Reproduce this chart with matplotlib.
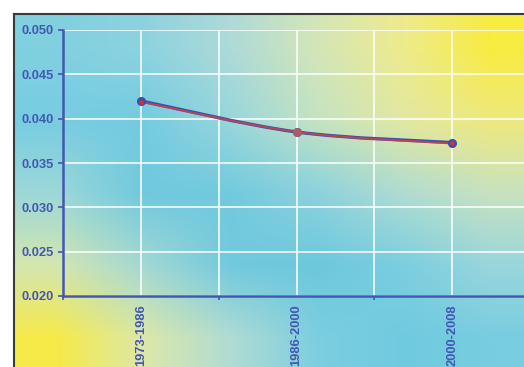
import numpy as np
import matplotlib
matplotlib.use("Agg")
from matplotlib import pyplot as plt
from matplotlib import font_manager as fm
from matplotlib.path import Path
from matplotlib.patches import PathPatch
from matplotlib.colors import to_rgb

periods = ["1973-1986", "1986-2000", "2000-2008"]
blue_vals = [0.0420, 0.0385, 0.0373]
red_vals = [0.0419, 0.0385, 0.0372]
yticks = [0.020, 0.025, 0.030, 0.035, 0.040, 0.045, 0.050]

# background colour grid (top row first)
bg_colors = [
    ["#80d0e0", "#8cd3e0", "#aedad8", "#d4e6b8", "#eeeb8c", "#f8ec40"],
    ["#78cde0", "#74cbe0", "#98d6dc", "#c4e3c2", "#e2e8a2", "#eee97e"],
    ["#9cd8d8", "#70c9de", "#72cade", "#8cd2de", "#b0dcd2", "#c8e2c0"],
    ["#d4e6b0", "#a4d8d4", "#72c9de", "#6cc8dc", "#7ccee0", "#9ad6dc"],
    ["#f6ea48", "#dce8a8", "#b0dcd4", "#7ccee0", "#70cadf", "#78cde0"],
]

axis_col = "#4356b4"
W, H = 524, 367

# Arial-like bold face
bold_file = None
for f in fm.findSystemFonts():
    if f.endswith("LiberationSans-Bold.ttf"):
        bold_file = f
        break
if bold_file:
    tick_font = fm.FontProperties(fname=bold_file, size=9.3)
else:
    tick_font = fm.FontProperties(family="DejaVu Sans", weight="bold", size=8)

fig = plt.figure(figsize=(W / 100, H / 100), dpi=100)

bg = fig.add_axes([14 / W, -0.02, 1.02 - 14 / W, 1.02 - 14 / H])
img = np.array([[to_rgb(c) for c in row] for row in bg_colors])
bg.imshow(img, aspect="auto", interpolation="bilinear", extent=[0, 1, 0, 1])
bg.set_xticks([])
bg.set_yticks([])
for s in ["right", "bottom"]:
    bg.spines[s].set_visible(False)
for s in ["left", "top"]:
    bg.spines[s].set_color("#3a3a3a")
    bg.spines[s].set_linewidth(1.5)

ax = fig.add_axes([63 / W, (H - 296) / H, (530 - 63) / W, (296 - 30) / H])
ax.set_facecolor("none")
ax.set_xlim(-0.5, 2.5)
ax.set_ylim(0.020, 0.050)

x = np.arange(len(periods))


def smooth_path(xs, ys):
    # cubic bezier through the points (catmull-rom tangents)
    xs = np.asarray(xs, float)
    ys = np.asarray(ys, float)
    verts = [(xs[0], ys[0])]
    codes = [Path.MOVETO]
    n = len(xs)
    for i in range(n - 1):
        p0 = (xs[max(i - 1, 0)], ys[max(i - 1, 0)])
        p1 = (xs[i], ys[i])
        p2 = (xs[i + 1], ys[i + 1])
        p3 = (xs[min(i + 2, n - 1)], ys[min(i + 2, n - 1)])
        c1 = (p1[0] + (p2[0] - p0[0]) / 6, p1[1] + (p2[1] - p0[1]) / 6)
        c2 = (p2[0] - (p3[0] - p1[0]) / 6, p2[1] - (p3[1] - p1[1]) / 6)
        verts += [c1, c2, p2]
        codes += [Path.CURVE4] * 3
    return Path(verts, codes)


ax.add_patch(PathPatch(smooth_path(x, blue_vals), fill=False,
                       edgecolor="#3a4db0", lw=2.4, zorder=3))
ax.add_patch(PathPatch(smooth_path(x, red_vals), fill=False,
                       edgecolor="#d8443c", lw=1.5, alpha=0.75, zorder=4))
ax.plot(x, blue_vals, "o", color="#3a4db0", ms=5.5, zorder=5)
ax.plot(x[1:2], red_vals[1:2], "o", color="#b86060", ms=5.5, alpha=0.85, zorder=6)
ax.plot(x[:1], red_vals[:1], "o", color="#e03030", ms=2.2, zorder=6)
ax.plot(x[2:], red_vals[2:], "o", color="#e03030", ms=2.2, zorder=6)

ax.set_yticks(yticks)
ax.set_yticklabels(["%.3f" % v for v in yticks])
ax.set_xticks(x)
ax.set_xticklabels(periods, rotation=90)
ax.set_xticks([-0.5, 0.5, 1.5, 2.5], minor=True)

ax.grid(True, which="both", axis="x", color="white", lw=1.1, zorder=1)
ax.grid(True, which="major", axis="y", color="white", lw=1.1, zorder=1)
ax.set_axisbelow(True)

ax.tick_params(axis="y", colors=axis_col, length=3.6, width=1.2, pad=3.4)
ax.tick_params(axis="x", which="major", length=0, pad=6, colors=axis_col)
ax.tick_params(axis="x", which="minor", length=3, width=1.2, colors=axis_col)
for lab in ax.get_xticklabels() + ax.get_yticklabels():
    lab.set_fontproperties(tick_font)

for s in ["top", "right"]:
    ax.spines[s].set_visible(False)
for s in ["left", "bottom"]:
    ax.spines[s].set_color(axis_col)
    ax.spines[s].set_linewidth(1.8)

fig.savefig("out.png", dpi=100)
